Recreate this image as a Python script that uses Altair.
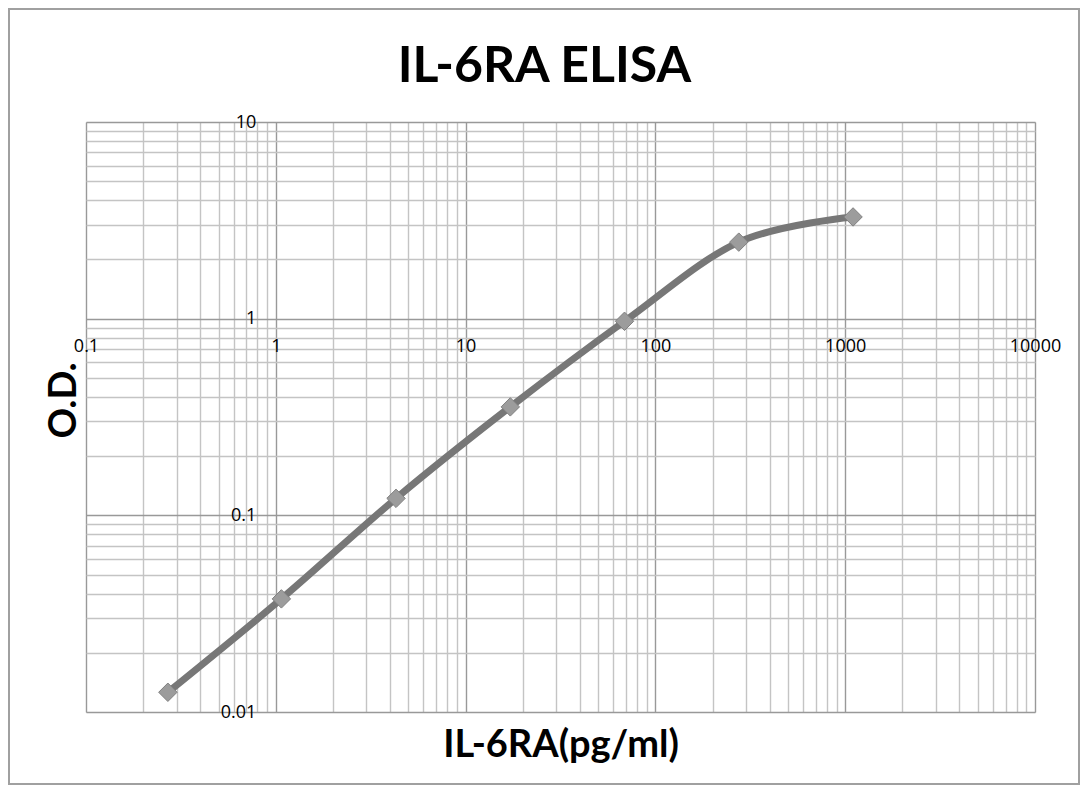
import altair as alt
import pandas as pd

# data
conc = [0.27, 1.07, 4.3, 17.2, 68.75, 275, 1100]
od = [0.0126, 0.0376, 0.122, 0.356, 0.97, 2.45, 3.29]

x_ticks = [round(m * 10.0 ** k, 4) for k in range(-1, 4) for m in range(1, 10)] + [10000.0]
y_ticks = [round(m * 10.0 ** k, 4) for k in range(-2, 1) for m in range(1, 10)] + [10.0]

df = pd.DataFrame({"conc": conc, "od": od})

W, H = 949, 590
major = "abs(log(datum.value)/LN10 - round(log(datum.value)/LN10)) < 0.001"
grid_color = {"condition": {"test": major, "value": "#999999"}, "value": "#c4c4c4"}
label_expr = "(" + major + ") ? ('' + datum.value) : ''"

x_axis = alt.Axis(
    values=x_ticks, grid=True, gridColor=grid_color, gridWidth=1.4,
    ticks=False, domain=False, labelExpr=label_expr, labelFont="Open Sans",
    labelFontSize=18, labelColor="black", labelPadding=19, labelFlush=False,
    labelOverlap=False, labelBound=False, offset=-H * 2 / 3,
    title="IL-6RA(pg/ml)", titleFont="Lato", titleFontSize=38,
    titleFontWeight="bold", titleColor="black", titleY=438,
    titleBaseline="alphabetic",
)
y_axis = alt.Axis(
    values=y_ticks, grid=True, gridColor=grid_color, gridWidth=1.4,
    ticks=False, domain=False, labelExpr=label_expr, labelFont="Open Sans",
    labelFontSize=18, labelColor="black", labelPadding=20, labelFlush=False,
    labelOverlap=False, labelBound=False, offset=-W / 5,
    title="O.D.", titleFont="Lato", titleFontSize=38, titleFontWeight="bold",
    titleColor="black", titleX=-211, titleY=278, titleBaseline="middle",
    titleAngle=270,
)

x = alt.X("conc:Q", scale=alt.Scale(type="log", domain=[0.1, 10000], nice=False), axis=x_axis)
y = alt.Y("od:Q", scale=alt.Scale(type="log", domain=[0.01, 10], nice=False), axis=y_axis)

line = alt.Chart(df).mark_line(color="#777777", strokeWidth=7, interpolate="cardinal").encode(x=x, y=y)
pts = alt.Chart(df).mark_point(shape="diamond", filled=True, size=340, color="#9c9c9c",
                               stroke="#808080", strokeWidth=1, opacity=1).encode(x=x, y=y)

frame = alt.Chart(alt.Data(values=[{}])).mark_rect(
    filled=False, stroke="#a0a0a0", strokeWidth=2
).encode(x=alt.value(-77), x2=alt.value(993), y=alt.value(-113), y2=alt.value(662))

chart = alt.layer(frame, line, pts).properties(
    width=W, height=H,
    title=alt.TitleParams("IL-6RA ELISA", font="Lato", fontSize=50, fontWeight="bold",
                          anchor="middle", frame="group", offset=0, baseline="alphabetic",
                          dy=124, dx=-16, color="black"),
    autosize=alt.AutoSizeParams(type="none"),
    padding={"left": 78, "top": 114, "right": 46, "bottom": 74},
).configure_view(stroke="#999999", strokeWidth=1.5).configure(background="white")

chart.save("out.html", embed_options={"renderer": "svg", "actions": False})
